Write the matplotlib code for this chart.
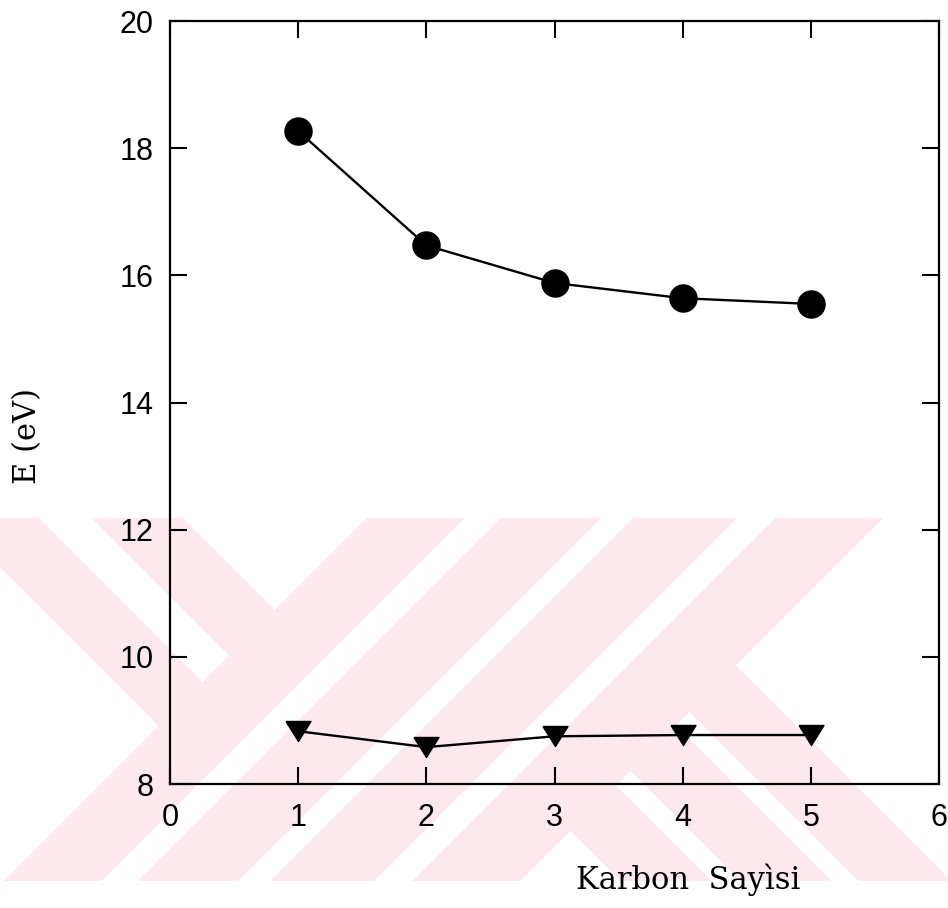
import numpy as np
import matplotlib
matplotlib.use("Agg")
import matplotlib.pyplot as plt
from matplotlib.colors import ListedColormap

# data
karbon = [1, 2, 3, 4, 5]
e_upper = [18.27, 16.47, 15.88, 15.64, 15.55]   # filled circles
e_lower = [8.83, 8.58, 8.75, 8.77, 8.77]        # down triangles

x_ticks = [0, 1, 2, 3, 4, 5, 6]
y_ticks = [8, 10, 12, 14, 16, 18, 20]

W, H = 948, 908
fig = plt.figure(figsize=(W / 100, H / 100), dpi=100)

# pale pink watermark behind the plot (scanned thesis stamp)
bg = fig.add_axes([0, 0, 1, 1], zorder=-1)
yy, xx = np.mgrid[0:H, 0:W]
s = xx + yy      # "/" bands
d = yy - xx      # "\" bands
box = (yy >= 518) & (yy <= 880)
left = s <= 884
pink = ((d >= 480) & (d <= 567) & left) | ((d >= 336) & (d <= 426) & left)
for lo, hi in [(884, 981), (1018, 1118), (1151, 1254), (1293, 1400)]:
    pink |= (s >= lo) & (s <= hi)
right = s >= 1400
for lo, hi in [(-70, 22), (50, 140), (170, 260)]:
    pink |= (d >= lo) & (d <= hi) & right
mask = (pink & box).astype(float)
bg.imshow(mask, cmap=ListedColormap(["white", "#fde9ed"]), vmin=0, vmax=1,
          interpolation="nearest", aspect="auto")
bg.set_axis_off()

ax = fig.add_axes([170 / W, 1 - 784 / H, 769 / W, 763 / H])
ax.set_facecolor("none")

# flatter down-triangle like the original
tri = [(-1.0, 0.8), (1.0, 0.8), (0.0, -0.8), (-1.0, 0.8)]

ax.plot(karbon, e_upper, "-o", color="black", lw=1.7, ms=19.5, zorder=3)
ax.plot(karbon, e_lower, "-", marker=tri, color="black", lw=1.7, ms=18,
        zorder=3)

ax.set_xlim(0, 6)
ax.set_ylim(8, 20)
ax.set_xticks(x_ticks)
ax.set_yticks(y_ticks)
for sp in ax.spines.values():
    sp.set_linewidth(1.6)
ax.tick_params(direction="in", length=12, width=1.5, top=True, right=True,
               labelsize=22)
ax.tick_params(axis="x", pad=14)
ax.tick_params(axis="y", pad=12)
for lab in ax.get_xticklabels() + ax.get_yticklabels():
    lab.set_family(["Liberation Sans", "DejaVu Sans"])

serif = ["DejaVu Serif"]
fig.text(688 / W, 1 - 880 / H, "Karbon  Sayìsi", ha="center", va="center",
         fontsize=22, family=serif)
fig.text(28 / W, 1 - 436 / H, "E (eV)", ha="center", va="center",
         rotation=90, fontsize=22, family=serif)

fig.savefig("out.png", dpi=100)
